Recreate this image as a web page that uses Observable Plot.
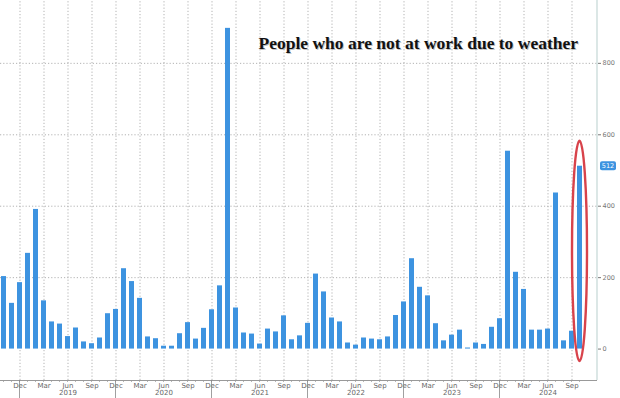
<!DOCTYPE html>
<html><head><meta charset="utf-8">
<script src="https://cdn.jsdelivr.net/npm/d3@7"></script>
<script src="https://cdn.jsdelivr.net/npm/@observablehq/plot@0.6"></script>
<style>body{margin:0;background:#fff}</style>
</head><body><div id="chart"></div>
<script>
// Monthly, Oct 2018 .. Oct 2024 (thousands of people)
const values = [
  203, 128, 186,
  268, 391, 135, 76, 70, 35, 59, 20, 15, 31, 99, 111,
  225, 189, 142, 34, 29, 8, 8, 43, 74, 28, 58, 110,
  177, 898, 115, 45, 42, 14, 56, 48, 93, 26, 37, 72,
  210, 160, 87, 76, 17, 11, 31, 28, 26, 34, 94, 132,
  253, 173, 149, 71, 23, 39, 53, 3, 17, 13, 61, 85,
  554, 215, 167, 53, 53, 56, 437, 23, 50, 512
];
const months = d3.utcMonth.range(new Date(Date.UTC(2018, 9, 1)), new Date(Date.UTC(2024, 10, 1)));
const yTicks = [0, 200, 400, 600, 800];
const title = "People who are not at work due to weather";
const lastLabel = "512";

const data = months.map((d, i) => ({month: d, value: values[i]}));
const quarterTicks = months.filter(d => d.getUTCMonth() % 3 === 2);
const yearTicks = months.filter(d => d.getUTCMonth() === 11);
const yearLabelTicks = months.filter(d => d.getUTCMonth() === 5);
const last = data[data.length - 1];

function extras(index, scales, values, dim) {
  const x = scales.x, y = scales.y;
  const bw = typeof x.bandwidth === "function" ? x.bandwidth() : (x.bandwidth || 0);
  const g = d3.create("svg:g");
  const right = dim.width - dim.marginRight;
  const bottom = dim.height - dim.marginBottom;
  g.append("line").attr("x1", right).attr("x2", right).attr("y1", 0).attr("y2", bottom)
    .attr("stroke", "#c4d7d6").attr("stroke-width", 1.2);
  for (const m of months) {
    const cx = x(m) + bw / 2;
    g.append("line").attr("x1", cx).attr("x2", cx).attr("y1", bottom).attr("y2", bottom + 2)
      .attr("stroke", "#999").attr("stroke-width", 0.7);
  }
  for (const m of yearTicks) {
    const cx = x(m) + bw / 2;
    g.append("line").attr("x1", cx).attr("x2", cx).attr("y1", bottom).attr("y2", dim.height)
      .attr("stroke", "#888").attr("stroke-width", 0.8);
  }
  const ly = y(last.value);
  g.append("rect").attr("x", right + 3).attr("y", ly - 4.5).attr("width", 16).attr("height", 9)
    .attr("rx", 2).attr("fill", "#3d93e0");
  g.append("text").attr("x", right + 11).attr("y", ly).attr("dy", "0.35em")
    .attr("text-anchor", "middle").attr("fill", "#fff").attr("font-size", 6.5)
    .attr("font-family", "DejaVu Sans, sans-serif").text(lastLabel);
  const cx = x(last.month) + bw / 2;
  const yTop = y(582), yBot = y(-35);
  g.append("ellipse").attr("cx", cx).attr("cy", (yTop + yBot) / 2)
    .attr("rx", 7.5).attr("ry", (yBot - yTop) / 2)
    .attr("fill", "none").attr("stroke", "#d8434b").attr("stroke-width", 2.4);
  return g.node();
}

const chart = Plot.plot({
  width: 620, height: 398,
  marginLeft: 0, marginRight: 23, marginTop: 0, marginBottom: 18,
  style: {background: "#fff", fontFamily: "DejaVu Sans, sans-serif", overflow: "visible"},
  x: {type: "band", domain: months, range: [0, 584], paddingInner: 0.37, paddingOuter: 0, axis: null, label: null},
  y: {domain: [-88, 976], axis: null, label: null},
  marks: [
    Plot.ruleY(yTicks.filter(d => d > 0), {stroke: "#aaa", strokeDasharray: "1.2,2", strokeWidth: 0.9}),
    Plot.ruleX(quarterTicks, {x: d => d, y1: -88, y2: 976, stroke: "#aaa", strokeDasharray: "1.2,2", strokeWidth: 0.9}),
    Plot.barY(data, {x: "month", y: "value", fill: "#3d93e0"}),
    Plot.ruleY([-88], {stroke: "#999", strokeWidth: 1}),
    Plot.axisY(yTicks, {anchor: "right", label: null, tickSize: 3, tickPadding: 2, fontSize: 6.5, color: "#777"}),
    Plot.axisX(quarterTicks, {anchor: "bottom", label: null, tickSize: 0, tickPadding: 2.5, fontSize: 7, color: "#666", tickFormat: d3.utcFormat("%b")}),
    Plot.text(yearLabelTicks, {x: d => d, frameAnchor: "bottom", dy: 14.5, text: d => d3.utcFormat("%Y")(d), fontSize: 7, fill: "#666"}),
    extras,
    Plot.text([title], {frameAnchor: "top-left", dx: 259, dy: 37.5, textAnchor: "start", fontSize: 17.5, fontWeight: "bold", fontFamily: "Liberation Serif, serif", fill: "#999", fillOpacity: 0.6}),
    Plot.text([title], {frameAnchor: "top-left", dx: 258, dy: 36, textAnchor: "start", fontSize: 17.5, fontWeight: "bold", fontFamily: "Liberation Serif, serif", fill: "#111"})
  ]
});
document.getElementById("chart").append(chart);
</script>
</body></html>
